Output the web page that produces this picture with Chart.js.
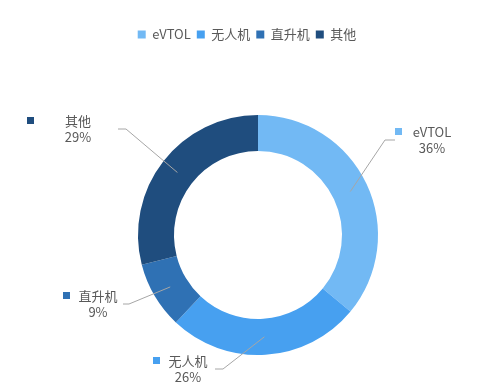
<!DOCTYPE html>
<html>
<head>
<meta charset="utf-8">
<script src="https://cdn.jsdelivr.net/npm/chart.js@4.4.1/dist/chart.umd.min.js"></script>
<style>
  html, body { margin: 0; padding: 0; background: #fff; overflow: hidden; }
  #wrap { width: 477px; height: 389px; overflow: hidden; }
</style>
</head>
<body>
<div id="wrap"><canvas id="chart" width="477" height="419"></canvas></div>
<script>
"use strict";

const categories = ["eVTOL", "无人机", "直升机", "其他"];
const shares     = [36, 26, 9, 29];
const colors     = ["#72B9F4", "#47A0F0", "#2F71B4", "#1F4D7E"];

const FONT = "'Noto Sans CJK SC', 'Noto Sans', sans-serif";
const TEXT = "#595959";

/* ---- label placement: elbow offset from centre, tail, key box, text centre ---- */
const labelLayout = [
  { ex: 127,  ey: -95, tail: 10, box: 10,  text: 47 },
  { ex: -35,  ey: 134, tail: -8, box: -70, text: -35 },
  { ex: -129, ey: 69,  tail: -6, box: -66, text: -31 },
  { ex: -132, ey: -106, tail: -8, box: -99, text: -48 },
];

const outsideLabels = {
  id: "outsideLabels",
  afterDatasetsDraw(chart) {
    const { ctx } = chart;
    const meta = chart.getDatasetMeta(0);
    ctx.save();
    meta.data.forEach((arc, i) => {
      const L = labelLayout[i];
      const a = arc.tooltipPosition();
      const ex = arc.x + L.ex, ey = arc.y + L.ey;

      ctx.strokeStyle = "#A6A6A6";
      ctx.lineWidth = 1;
      ctx.beginPath();
      ctx.moveTo(a.x, a.y);
      ctx.lineTo(ex, ey);
      ctx.lineTo(ex + L.tail, ey);
      ctx.stroke();

      ctx.fillStyle = colors[i];
      ctx.fillRect(ex + L.box, ey - 12, 7, 7);

      ctx.fillStyle = TEXT;
      ctx.font = "13px " + FONT;
      ctx.textAlign = "center";
      ctx.textBaseline = "middle";
      ctx.fillText(categories[i], ex + L.text, ey - 8);
      ctx.fillText(shares[i] + "%", ex + L.text, ey + 8);
    });
    ctx.restore();
  },
};

/* nudge the legend a little left of the ring centre, as in the original */
const legendShift = {
  id: "legendShift",
  afterLayout(chart) {
    chart.legend.left -= 11;
    chart.legend.right -= 11;
  },
};

new Chart(document.getElementById("chart"), {
  type: "doughnut",
  data: {
    labels: categories,
    datasets: [{
      data: shares,
      backgroundColor: colors,
      borderWidth: 0,
      radius: 120,
    }],
  },
  options: {
    responsive: false,
    animation: false,
    cutout: "70%",
    layout: { padding: { top: 22, bottom: 0, left: 39, right: 0 } },
    plugins: {
      legend: {
        position: "top",
        labels: {
          boxWidth: 8,
          boxHeight: 8,
          padding: 6,
          color: TEXT,
          font: { family: FONT, size: 13 },
        },
      },
      tooltip: { enabled: false },
    },
  },
  plugins: [outsideLabels, legendShift],
});
</script>
</body>
</html>
